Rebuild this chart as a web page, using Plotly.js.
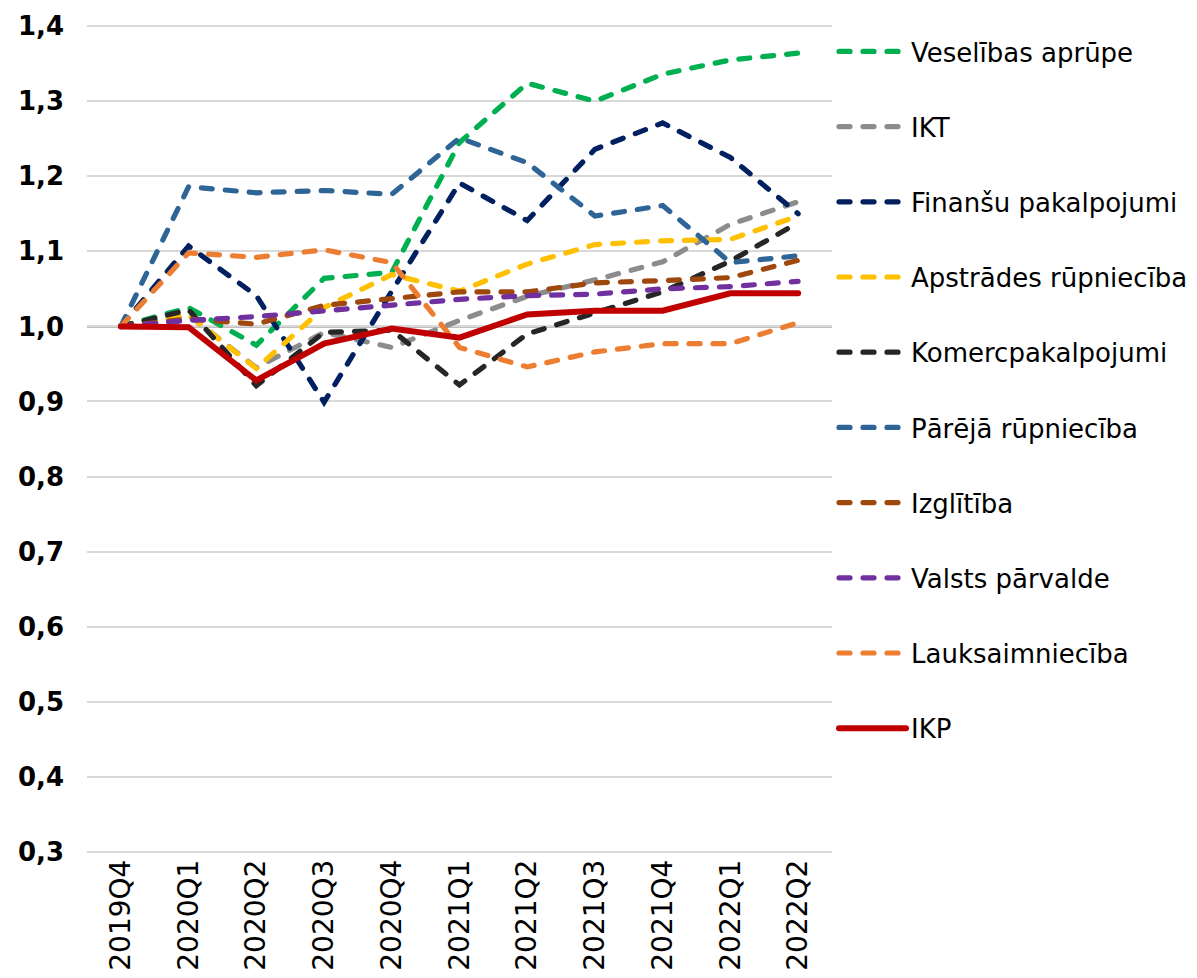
<!DOCTYPE html>
<html>
<head>
<meta charset="utf-8">
<script src="https://cdn.plot.ly/plotly-3.0.1.min.js"></script>
<style>
html, body { margin: 0; padding: 0; background: #fff; }
#chart { width: 1197px; height: 978px; }
path.js-line { stroke-linecap: round !important; }
</style>
</head>
<body>
<div id="chart"></div>
<script>
const quarters = ["2019Q4","2020Q1","2020Q2","2020Q3","2020Q4","2021Q1","2021Q2","2021Q3","2021Q4","2022Q1","2022Q2"];

const veselibasAprupe    = [1.000, 1.025, 0.975, 1.064, 1.072, 1.245, 1.324, 1.300, 1.336, 1.355, 1.364];
const ikt                = [1.000, 1.015, 0.945, 0.992, 0.972, 1.008, 1.040, 1.062, 1.086, 1.136, 1.166];
const finansuPakalpojumi = [1.000, 1.107, 1.041, 0.899, 1.047, 1.191, 1.141, 1.236, 1.271, 1.225, 1.150];
const apstradesRupn      = [1.000, 1.015, 0.944, 1.025, 1.069, 1.047, 1.083, 1.109, 1.114, 1.116, 1.147];
const komercpakalpojumi  = [1.000, 1.022, 0.921, 0.992, 0.995, 0.922, 0.990, 1.018, 1.046, 1.087, 1.138];
const parejaRupn         = [1.000, 1.186, 1.178, 1.181, 1.176, 1.251, 1.218, 1.147, 1.161, 1.085, 1.094];
const izglitiba          = [1.000, 1.010, 1.003, 1.028, 1.037, 1.046, 1.046, 1.058, 1.061, 1.065, 1.088];
const valstsParvalde     = [1.000, 1.008, 1.013, 1.021, 1.028, 1.036, 1.041, 1.043, 1.050, 1.053, 1.060];
const lauksaimnieciba    = [1.000, 1.098, 1.092, 1.102, 1.085, 0.972, 0.946, 0.966, 0.977, 0.977, 1.005];
const ikp                = [1.000, 0.999, 0.928, 0.977, 0.997, 0.985, 1.016, 1.021, 1.021, 1.044, 1.044];

const seriesNames = ["Veselības aprūpe","IKT","Finanšu pakalpojumi","Apstrādes rūpniecība","Komercpakalpojumi","Pārējā rūpniecība","Izglītība","Valsts pārvalde","Lauksaimniecība","IKP"];
const seriesValues = [veselibasAprupe, ikt, finansuPakalpojumi, apstradesRupn, komercpakalpojumi, parejaRupn, izglitiba, valstsParvalde, lauksaimnieciba, ikp];
const seriesColors = ["#00B050","#8C8C8C","#002060","#FFC000","#262626","#2E6496","#9E480E","#7030A0","#ED7D31","#C00000"];

const traces = seriesNames.map((name, i) => {
  const solid = (name === "IKP");
  return {
    type: "scatter",
    mode: "lines",
    name: name,
    x: quarters,
    y: seriesValues[i],
    legendgroup: "g" + i,
    line: {
      color: seriesColors[i],
      width: solid ? 6 : 5.2,
      dash: solid ? "solid" : "11px,13px"
    },
    hoverinfo: "skip"
  };
});

const layout = {
  width: 1197,
  height: 978,
  paper_bgcolor: "#ffffff",
  plot_bgcolor: "#ffffff",
  separators: ", ",
  margin: { l: 87, r: 365, t: 25, b: 125, pad: 0, autoexpand: false },
  font: { family: "DejaVu Sans, Verdana, sans-serif", color: "#000000" },
  showlegend: true,
  legend: {
    x: 1.0027,
    xanchor: "left",
    y: 0.9964,
    yanchor: "top",
    traceorder: "grouped",
    tracegroupgap: 38.4,
    itemwidth: 67,
    font: { family: "DejaVu Sans, Verdana, sans-serif", size: 26, color: "#000000" },
    bgcolor: "rgba(0,0,0,0)"
  },
  xaxis: {
    type: "category",
    range: [-0.5, 10.5],
    showgrid: false,
    zeroline: false,
    showline: false,
    ticks: "",
    tickangle: -90,
    automargin: false,
    tickfont: { family: "DejaVu Sans, Verdana, sans-serif", size: 28, color: "#000000" },
    fixedrange: true
  },
  yaxis: {
    range: [0.2985, 1.4015],
    tick0: 0.3,
    dtick: 0.1,
    tickformat: ".1f",
    showgrid: true,
    gridcolor: "#D9D9D9",
    gridwidth: 2,
    zeroline: false,
    showline: false,
    ticks: "",
    automargin: false,
    ticklabelstandoff: 22,
    tickfont: { family: "DejaVu Sans, Verdana, sans-serif", size: 26, color: "#000000", weight: "bold" },
    fixedrange: true
  },
  shapes: [{
    type: "line",
    xref: "paper",
    yref: "y",
    x0: 0, x1: 1,
    y0: 1, y1: 1,
    line: { color: "#808080", width: 2.2 },
    layer: "below"
  }]
};

Plotly.newPlot("chart", traces, layout, { displayModeBar: false, staticPlot: true }).then(gd => {
  gd.querySelectorAll("path.js-line").forEach(p => { p.style.strokeLinecap = "round"; });
});
</script>
</body>
</html>
